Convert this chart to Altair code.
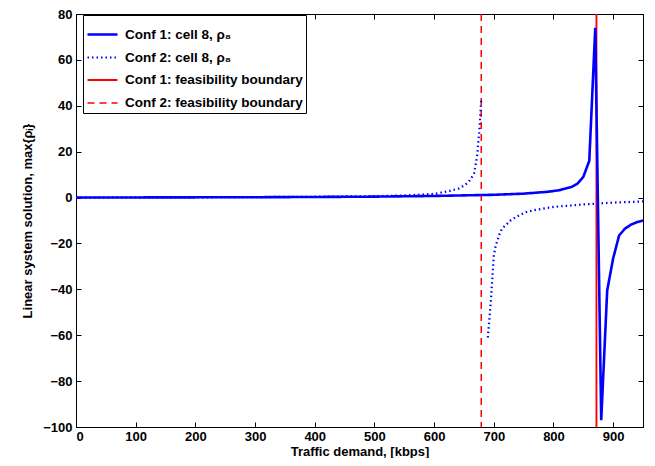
import altair as alt
import pandas as pd

# ---- data ----
series_names = [
    "Conf 1: cell 8, ρ₈",
    "Conf 2: cell 8, ρ₈",
    "Conf 1: feasibility boundary",
    "Conf 2: feasibility boundary",
]
series_colors = ["#0000ff", "#0000ff", "#ff0000", "#ff0000"]
series_dashes = [[1, 0], [1.5, 3], [1, 0], [7, 5]]
series_widths = [2.6, 1.5, 1.2, 1.2]

# Conf 1: cell 8 (solid)
conf1_x = [0, 100, 200, 300, 400, 500, 600, 700, 750, 790, 810, 830, 840, 850,
           860, 870, 880, 890, 900, 910, 920, 930, 940, 950]
conf1_y = [0.0, 0.05, 0.1, 0.15, 0.25, 0.4, 0.7, 1.2, 1.7, 2.5, 3.2, 4.6, 6.0, 9.0,
           16.0, 74.0, -97.0, -40.5, -26.5, -16.5, -13.5, -11.8, -10.7, -10.0]

# Conf 2: cell 8 (dotted), left branch
conf2a_x = [0, 100, 200, 300, 400, 500, 550, 600, 625, 642, 653, 661, 667, 670,
            672.5, 674, 675.5, 677, 679]
conf2a_y = [0.0, 0.05, 0.1, 0.2, 0.35, 0.6, 0.9, 1.6, 2.8, 4.0, 5.7, 7.8, 10.6,
            14.9, 19.0, 24.0, 28.0, 34.0, 43.0]

# Conf 2: cell 8 (dotted), right branch
conf2b_x = [690, 692, 695, 697.5, 700, 703, 709, 714, 720, 728, 737, 753, 770,
            787, 803, 850, 900, 950]
conf2b_y = [-61.0, -55.0, -45.4, -35.5, -25.5, -21.3, -16.3, -13.5, -12.0, -10.0,
            -8.5, -6.4, -5.4, -4.6, -4.0, -3.0, -2.2, -1.7]

# feasibility boundaries
boundary_series = [series_names[2], series_names[3]]
boundary_x = [872, 679]

x_ticks = list(range(0, 1000, 100))
y_ticks = list(range(-100, 81, 20))

# ---- tables ----
rows = []
for x, y in zip(conf1_x, conf1_y):
    rows.append({"series": series_names[0], "segment": "c1", "x": x, "y": y})
for x, y in zip(conf2a_x, conf2a_y):
    rows.append({"series": series_names[1], "segment": "c2a", "x": x, "y": y})
for x, y in zip(conf2b_x, conf2b_y):
    rows.append({"series": series_names[1], "segment": "c2b", "x": x, "y": y})
curves = pd.DataFrame(rows)
bounds = pd.DataFrame({"series": boundary_series, "x": boundary_x})

FONT = "Liberation Sans"
xscale = alt.Scale(domain=[0, 950], nice=False, zero=False)
yscale = alt.Scale(domain=[-100, 80], nice=False, zero=False)

color_enc = alt.Color("series:N", title=None,
                      scale=alt.Scale(domain=series_names, range=series_colors))
dash_enc = alt.StrokeDash("series:N", title=None,
                          scale=alt.Scale(domain=series_names, range=series_dashes))
width_enc = alt.StrokeWidth("series:O", title=None,
                            scale=alt.Scale(domain=series_names, range=series_widths))

common_axis = dict(domain=False, grid=False, tickSize=5, offset=-5,
                   tickColor="black", labelColor="black", titleColor="black",
                   labelFont=FONT, titleFont=FONT, labelFontSize=13,
                   titleFontSize=13, labelFontWeight="bold",
                   titleFontWeight="bold")

x_axis = alt.Axis(orient="bottom", values=x_ticks, title="Traffic demand, [kbps]",
                  labelPadding=3, titlePadding=2, **common_axis)
y_axis = alt.Axis(orient="left", values=y_ticks,
                  title="Linear system solution, max{ρᵢ}",
                  labelPadding=4, titlePadding=8, **common_axis)
x_axis_top = alt.Axis(orient="top", values=x_ticks, title=None, labels=False,
                      **common_axis)
y_axis_right = alt.Axis(orient="right", values=y_ticks, title=None, labels=False,
                        **common_axis)

lines = alt.Chart(curves).mark_line(clip=True).encode(
    x=alt.X("x:Q", scale=xscale, axis=x_axis),
    y=alt.Y("y:Q", scale=yscale, axis=y_axis),
    color=color_enc,
    strokeDash=dash_enc,
    strokeWidth=width_enc,
    detail="segment:N",
    order="x:Q",
)

rules = alt.Chart(bounds).mark_rule().encode(
    x=alt.X("x:Q", scale=xscale, axis=None),
    color=color_enc,
    strokeDash=dash_enc,
    strokeWidth=width_enc,
)

frame_axes = alt.Chart(curves).mark_point(opacity=0).encode(
    x=alt.X("x:Q", scale=xscale, axis=x_axis_top),
    y=alt.Y("y:Q", scale=yscale, axis=y_axis_right),
)

chart = (
    alt.layer(rules, lines, frame_axes)
    .resolve_axis(x="independent", y="independent")
    .properties(
        width=567,
        height=413,
        autosize=alt.AutoSizeParams(type="none"),
        padding={"left": 68, "top": 6, "right": 4, "bottom": 31},
    )
    .configure(font=FONT)
    .configure_view(stroke="black", strokeWidth=1)
    .configure_legend(
        orient="none",
        legendX=7,
        legendY=1,
        symbolType="stroke",
        symbolSize=900,
        labelFont=FONT,
        labelFontSize=13.5,
        labelFontWeight="bold",
        labelColor="black",
        labelLimit=400,
        labelOffset=6,
        strokeColor="black",
        fillColor="white",
        padding=3,
        rowPadding=-7.5,
        cornerRadius=0,
    )
)

chart.save("out.html", embed_options={"renderer": "svg", "actions": False})
